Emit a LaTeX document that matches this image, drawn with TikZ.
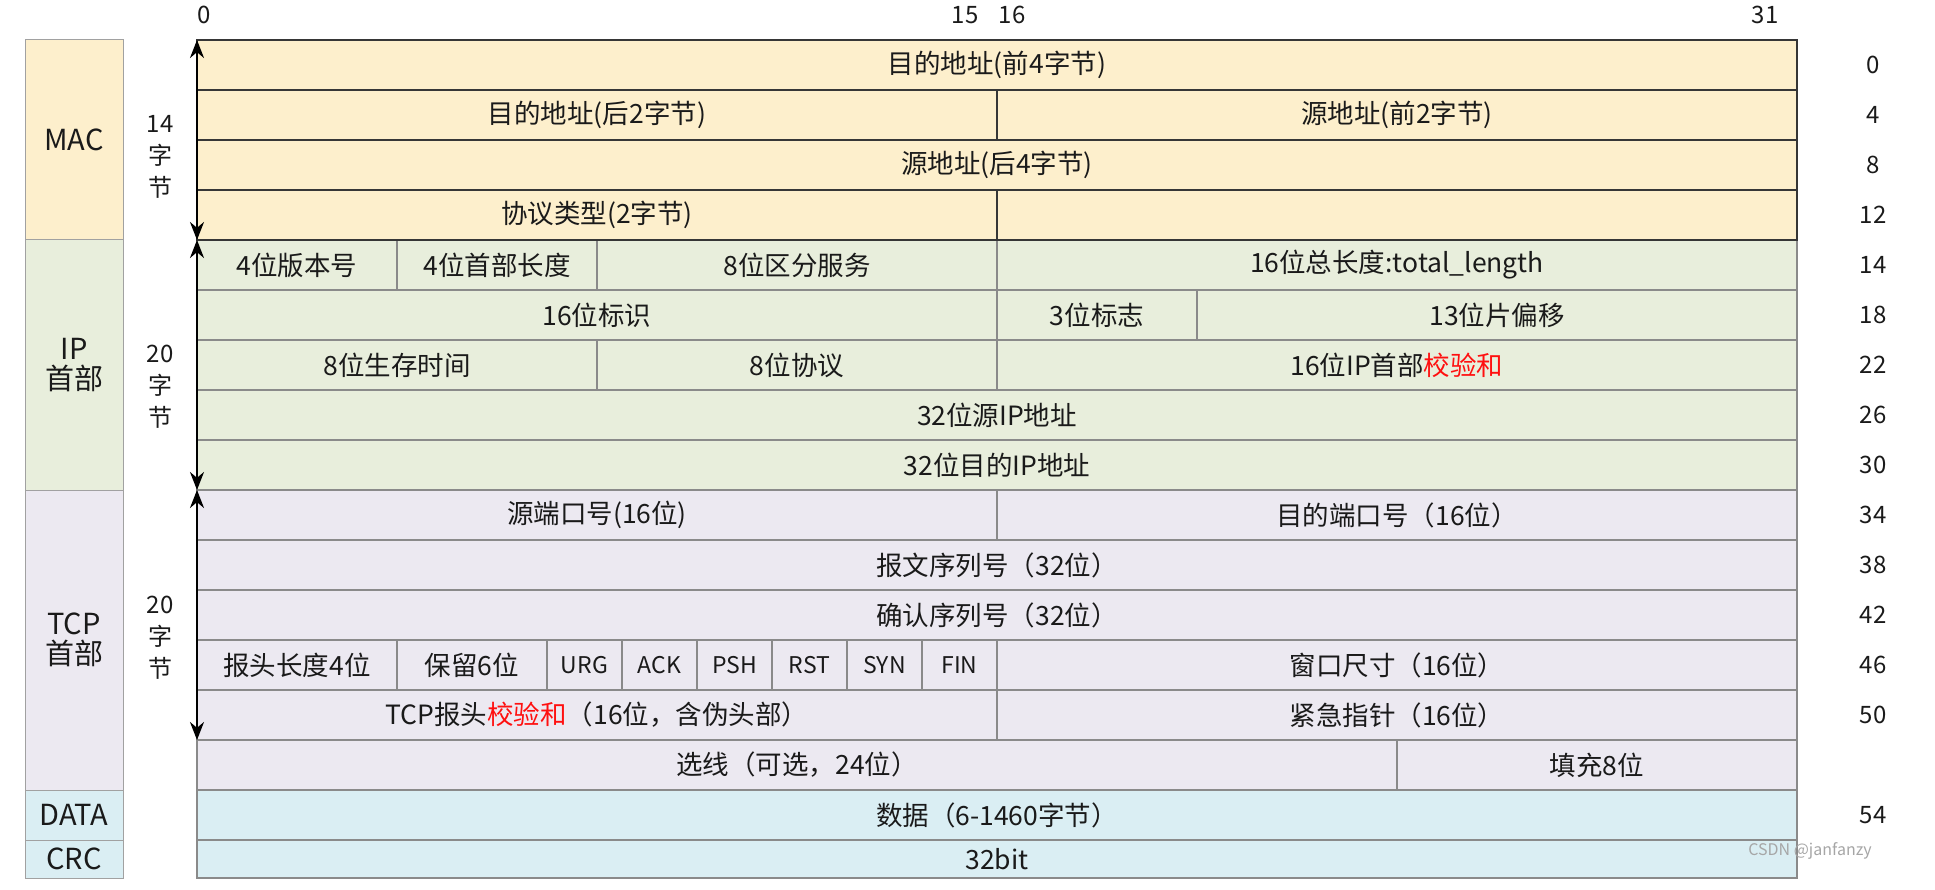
\documentclass[tikz,border=0pt]{standalone}
\usepackage{fontspec}
\setmainfont{Noto Sans CJK SC}
\usetikzlibrary{arrows.meta}
\definecolor{macfill}{HTML}{FDEFCC}
\definecolor{ipfill}{HTML}{E8EEDC}
\definecolor{tcpfill}{HTML}{ECE9F1}
\definecolor{datafill}{HTML}{DAEEF3}
\definecolor{macline}{HTML}{363636}
\definecolor{grayline}{HTML}{8A8A8A}
\definecolor{redtxt}{HTML}{FF1010}
\definecolor{txt}{HTML}{1A1A1A}
\newcommand\fsz{\fontsize{26.5}{30}\selectfont}
\newcommand\fsec{\fontsize{29}{33}\selectfont}
\newcommand\fnum{\fontsize{24}{28}\selectfont}
\newcommand\fflag{\fontsize{23}{26}\selectfont}
\newcommand\pcell[6]{\node[#2, minimum width={(#4-#3)*50pt}] (#1) at ({197+#3*50},#5) {#6};}
\begin{document}
\begin{tikzpicture}[x=1pt,y=-1pt,
  cellbase/.style={inner sep=0pt, outer sep=0pt, anchor=north west, minimum height=50pt, font=\fsz, text=txt},
  maccell/.style={cellbase, draw=macline, line width=2.2pt, fill=macfill},
  ipcell/.style={cellbase, draw=grayline, line width=1.6pt, fill=ipfill},
  tcpcell/.style={cellbase, draw=grayline, line width=1.6pt, fill=tcpfill},
  datacell/.style={cellbase, draw=grayline, line width=1.6pt, fill=datafill},
  secbox/.style={draw=grayline!80, line width=1pt, inner sep=0pt, outer sep=0pt, anchor=north west, minimum width=98pt, font=\fsec, text=txt, align=center},
  lbl/.style={font=\fnum, text=txt, inner sep=0pt},
  bytelbl/.style={font=\fnum, text=txt, inner sep=0pt, align=center},
  sizearrow/.style={{Stealth[length=18pt,width=14pt]}-{Stealth[length=18pt,width=14pt]}, line width=2.4pt, black}
]
\useasboundingbox (0,0) rectangle (1935,890);

% left section boxes
\node[secbox, fill=macfill, minimum height=200pt] (smac) at (25,40) {MAC};
\node[secbox, fill=ipfill, minimum height=250pt] (sip) at (25,240) {IP\\[-3pt]首部};
\node[secbox, fill=tcpfill, minimum height=300pt] (stcp) at (25,490) {TCP\\[-3pt]首部};
\node[secbox, fill=datafill, minimum height=50pt] (sdata) at (25,790) {DATA};
\node[secbox, fill=datafill, minimum height=38pt] (scrc) at (25,840) {CRC};

% DATA / CRC
\pcell{data}{datacell}{0}{32}{790}{数据（6-1460字节）}
\node[datacell, minimum width=1600pt, minimum height=38pt] (crc) at (197,840) {32bit};

% TCP
\pcell{sport}{tcpcell}{0}{16}{490}{源端口号(16位)}
\pcell{dport}{tcpcell}{16}{32}{490}{目的端口号（16位）}
\pcell{seq}{tcpcell}{0}{32}{540}{报文序列号（32位）}
\pcell{ack}{tcpcell}{0}{32}{590}{确认序列号（32位）}
\pcell{hlen}{tcpcell}{0}{4}{640}{报头长度4位}
\pcell{resv}{tcpcell}{4}{7}{640}{保留6位}
\pcell{furg}{tcpcell}{7}{8.5}{640}{\fflag URG}
\pcell{fack}{tcpcell}{8.5}{10}{640}{\fflag ACK}
\pcell{fpsh}{tcpcell}{10}{11.5}{640}{\fflag PSH}
\pcell{frst}{tcpcell}{11.5}{13}{640}{\fflag RST}
\pcell{fsyn}{tcpcell}{13}{14.5}{640}{\fflag SYN}
\pcell{ffin}{tcpcell}{14.5}{16}{640}{\fflag FIN}
\pcell{win}{tcpcell}{16}{32}{640}{窗口尺寸（16位）}
\pcell{tcsum}{tcpcell}{0}{16}{690}{TCP报头\textcolor{redtxt}{校验和}（16位，含伪头部）}
\pcell{urgp}{tcpcell}{16}{32}{690}{紧急指针（16位）}
\pcell{opt}{tcpcell}{0}{24}{740}{选线（可选，24位）}
\pcell{pad}{tcpcell}{24}{32}{740}{填充8位}

% IP
\pcell{ver}{ipcell}{0}{4}{240}{4位版本号}
\pcell{ihl}{ipcell}{4}{8}{240}{4位首部长度}
\pcell{tos}{ipcell}{8}{16}{240}{8位区分服务}
\pcell{tlen}{ipcell}{16}{32}{240}{16位总长度:total\_length}
\pcell{ident}{ipcell}{0}{16}{290}{16位标识}
\pcell{flags}{ipcell}{16}{20}{290}{3位标志}
\pcell{frag}{ipcell}{20}{32}{290}{13位片偏移}
\pcell{ttl}{ipcell}{0}{8}{340}{8位生存时间}
\pcell{proto}{ipcell}{8}{16}{340}{8位协议}
\pcell{hcsum}{ipcell}{16}{32}{340}{16位IP首部\textcolor{redtxt}{校验和}}
\pcell{srcip}{ipcell}{0}{32}{390}{32位源IP地址}
\pcell{dstip}{ipcell}{0}{32}{440}{32位目的IP地址}

% MAC
\pcell{dst1}{maccell}{0}{32}{40}{目的地址(前4字节)}
\pcell{dst2}{maccell}{0}{16}{90}{目的地址(后2字节)}
\pcell{src1}{maccell}{16}{32}{90}{源地址(前2字节)}
\pcell{src2}{maccell}{0}{32}{140}{源地址(后4字节)}
\pcell{etype}{maccell}{0}{16}{190}{协议类型(2字节)}
\pcell{emacrest}{maccell}{16}{32}{190}{}

% size arrows
\draw[sizearrow] (dst1.north west) -- (etype.south west);
\draw[sizearrow] (ver.north west) -- (dstip.south west);
\draw[sizearrow] (sport.north west) -- (tcsum.south west);

% byte-count labels
\node[bytelbl] (bmac) at (160,157) {14\\[4pt]字\\[4pt]节};
\node[bytelbl] (bip) at (160,387) {20\\[4pt]字\\[4pt]节};
\node[bytelbl] (btcp) at (160,638) {20\\[4pt]字\\[4pt]节};

% bit numbers
\node[lbl] (b0) at (204,15) {0};
\node[lbl] (b15) at (965,15) {15};
\node[lbl] (b16) at (1012,15) {16};
\node[lbl] (b31) at (1765,15) {31};

% byte offsets
\foreach \o/\y in {0/65,4/115,8/165,12/215,14/265,18/315,22/365,26/415,30/465,34/515,38/565,42/615,46/665,50/715,54/815}{
  \node[lbl] (off\o) at (1873,\y) {\o};
}

% watermark
\node[font=\fontsize{16}{18}\selectfont, text=black!35, inner sep=0pt] (wm) at (1810,851) {CSDN @janfanzy};
\end{tikzpicture}
\end{document}
